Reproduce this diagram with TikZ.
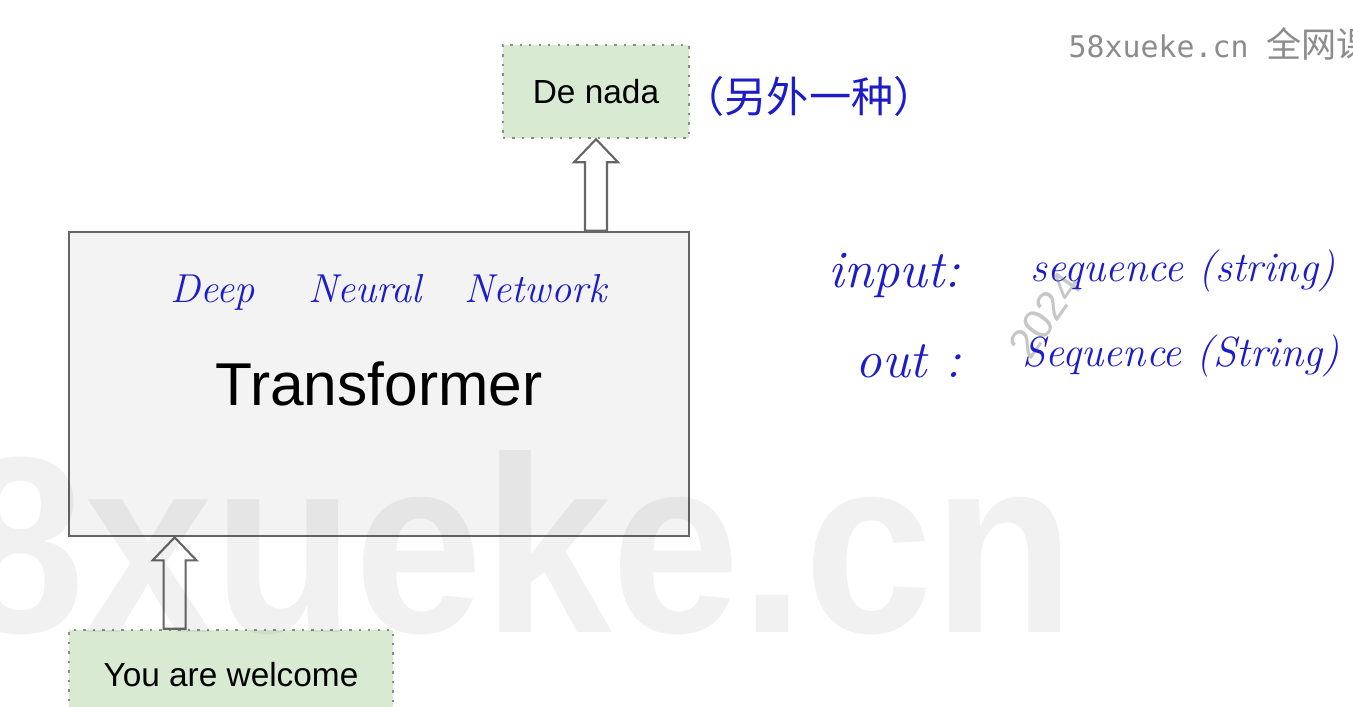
\documentclass[tikz,border=0pt]{standalone}
\usepackage{fontspec}
\usepackage{tikz}
\usetikzlibrary{calc}
\usetikzlibrary{positioning}
\newfontfamily\slidefont{Liberation Sans}
\newfontfamily\cjkfont{Noto Sans CJK SC}
\newfontfamily\markfont{DejaVu Sans Mono}
\definecolor{ink}{RGB}{28,28,200}
\definecolor{leaf}{RGB}{217,234,211}
\definecolor{panel}{RGB}{243,243,243}
\tikzset{>=latex, font=\slidefont}
\tikzstyle{model} = [draw=black!60, line width=0.8pt, fill=panel, rectangle, minimum width=62mm, minimum height=30.4mm, text centered, font=\slidefont\fontsize{17.2}{20}\selectfont]
\tikzstyle{token} = [draw=black!45, dotted, line width=0.7pt, fill=leaf, rectangle, minimum height=9.3mm, font=\slidefont\fontsize{9.5}{11}\selectfont]
\tikzstyle{hand} = [text=ink, inner sep=0pt, font=\rmfamily\itshape\fontsize{12}{14}\selectfont]
\tikzstyle{hollow} = [draw=black!60, line width=0.6pt, fill=white, line join=miter]
\newcommand{\hollowarrow}[2]{%
  \draw[hollow] (#1) -- ++(22,23) -- ++(-11,0) -- ($(#1 |- #2)+(11,0)$) -- ($(#1 |- #2)+(-11,0)$) -- ($(#1)+(-11,23)$) -- ++(-11,0) -- cycle;
}

\begin{document}
\begin{tikzpicture}[x=0.1mm, y=-0.1mm]
	\useasboundingbox (0,0) rectangle (1353,707);
	\clip (0,0) rectangle (1353,707);
	\fill [white] (0,0) rectangle (1353,707);

	\node [model] (trans) at (379,384) {Transformer};
	\node [token, minimum width=18.6mm] (denada) at (596,91.5) {De nada};
	\node [token, minimum width=32.4mm, minimum height=9mm] (welcome) at (231,675) {You are welcome};

	\coordinate (intip) at ($(trans.south west)+(107,0)$);
	\hollowarrow{denada.south}{trans.north}
	\hollowarrow{intip}{welcome.north}

	% faint year mark under the notes
	\node [rotate=55, text=black!22, font=\slidefont\fontsize{12}{14}\selectfont] (yearmark) at (1045,315) {2024};

	% handwritten notes
	\node [hand, anchor=base west, font=\rmfamily\itshape\fontsize{11.5}{14}\selectfont] (dnn) at (170,303) {Deep \hspace{3.9mm}Neural \hspace{2.8mm}Network};
	\node [hand, font=\cjkfont\fontsize{12}{14}\selectfont] (other) at (809,96) {（另外一种）};
	\node [hand, anchor=base west, font=\rmfamily\itshape\fontsize{15}{18}\selectfont] (inlab) at (828,288) {input:};
	\node [hand, anchor=base west] (inseq) at (1030,282) {sequence (string)};
	\node [hand, anchor=base west, font=\rmfamily\itshape\fontsize{15}{18}\selectfont] (outlab) at (855,377) {out :};
	\node [hand, anchor=base west] (outseq) at (1022,367) {Sequence (String)};

	% watermarks
	\node [anchor=base east, xscale=0.92, text=black, text opacity=0.055, font=\slidefont\bfseries\fontsize{71.5}{80}\selectfont] (bigmark) at (1086,632) {8xueke.cn};
	\node [anchor=base west, inner sep=0pt, text=black!45, font=\markfont\fontsize{8.5}{10}\selectfont] (topmark) at (1068,58) {58xueke.cn {\cjkfont\fontsize{10}{12}\selectfont 全网课}};
\end{tikzpicture}
\end{document}
